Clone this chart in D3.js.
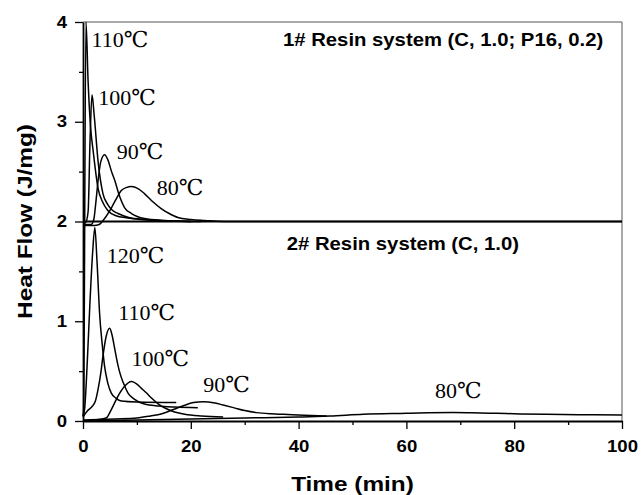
<!DOCTYPE html>
<html>
<head>
<meta charset="utf-8">
<script src="https://cdn.jsdelivr.net/npm/d3@7"></script>
<style>
  body { margin: 0; background: #fff; }
  .tick text { font-family: "Liberation Sans", Arial, sans-serif; font-weight: bold; font-size: 16px; fill: #000; }
  .tick line { stroke: #000; stroke-width: 1.3; }
  .curve { fill: none; stroke: #000; stroke-width: 1.5; }
  .temp-label { font-family: "Liberation Serif", "DejaVu Serif", serif; font-size: 22px; fill: #000; }
  .panel-title { font-family: "Liberation Sans", Arial, sans-serif; font-weight: bold; font-size: 17.5px; fill: #000; }
  .axis-title { font-family: "Liberation Sans", Arial, sans-serif; font-weight: bold; font-size: 21px; fill: #000; }
</style>
</head>
<body>
<div id="viz_container"></div>
<script>
// tick values
const timeTicks = [0, 20, 40, 60, 80, 100];
const timeMinor = [10, 30, 50, 70, 90];
const flowTicks = [0, 1, 2, 3, 4];
const flowMinor = [0.5, 1.5, 2.5, 3.5];

// 1# resin system curves, [time, heat flow], offset by 2
const resin1_110 = [[0,0.05],[0.1,0.1],[0.55,4.0],[0.95,3.4],[1.4,2.95],[1.9,2.7],[2.8,2.33],[3.6,2.2],[4.6,2.11],[6,2.06],[8.3,2.035],[11,2.02],[14.5,2.01],[20,2.0]];
const resin1_100 = [[0,1.98],[0.5,1.99],[0.95,2.1],[1.3,2.8],[1.67,3.27],[2.1,3.05],[2.8,2.6],[3.7,2.28],[4.6,2.17],[5.5,2.11],[6.5,2.08],[8.5,2.04],[11.5,2.02],[16,2.005],[22,2.0]];
const resin1_90 = [[0,1.97],[1.5,1.97],[2.0,2.02],[2.4,2.2],[2.8,2.41],[3.3,2.6],[4.0,2.67],[4.6,2.62],[5.3,2.5],[5.9,2.41],[6.8,2.25],[7.7,2.14],[9,2.08],[11.4,2.03],[15,2.01],[20,2.0]];
const resin1_80 = [[0,1.96],[2,1.96],[3,1.97],[4,2.03],[5.3,2.14],[6.2,2.23],[7.1,2.31],[8,2.34],[9,2.35],[10.2,2.33],[11.4,2.28],[12.9,2.2],[14.5,2.13],[16,2.08],[17.6,2.04],[20,2.02],[22.6,2.01],[26,2.0],[100,2.0]];

// 2# resin system curves
const resin2_120 = [[0,0.05],[0.3,0.12],[0.8,0.6],[1.3,1.2],[1.8,1.7],[2.2,1.94],[2.6,1.6],[3.1,1.06],[3.6,0.75],[4.0,0.55],[4.6,0.38],[5.25,0.28],[6.1,0.23],[7.1,0.2],[10,0.19],[17.3,0.185]];
const resin2_110 = [[0,0.04],[0.8,0.1],[1.6,0.14],[2.3,0.2],[2.8,0.32],[3.3,0.48],[3.7,0.65],[4.3,0.85],[4.95,0.93],[5.4,0.86],[5.9,0.72],[6.4,0.58],[6.8,0.49],[7.5,0.38],[8.35,0.28],[9.5,0.22],[11.4,0.17],[14,0.15],[17,0.14],[21.3,0.134]];
const resin2_100 = [[0,0.0],[2,0.01],[4.3,0.03],[5.3,0.12],[6.5,0.25],[7.6,0.34],[9.0,0.395],[10,0.37],[10.8,0.33],[11.8,0.28],[12.7,0.23],[14,0.17],[15.2,0.13],[17,0.09],[18.9,0.067],[22,0.05],[26,0.04]];
const resin2_90 = [[0,0.01],[6,0.02],[10,0.03],[12.5,0.05],[14.5,0.07],[16.5,0.11],[18.5,0.15],[20.5,0.185],[22.3,0.194],[24.5,0.18],[26,0.16],[27.9,0.134],[30,0.105],[32.2,0.084],[35,0.072],[37.2,0.067],[41,0.058],[45.2,0.05]];
const resin2_80 = [[0,0.0],[10,0.01],[20,0.02],[30,0.03],[40,0.04],[45.8,0.05],[52,0.067],[60,0.077],[64,0.082],[68.7,0.084],[72,0.082],[76.7,0.077],[81,0.071],[86,0.067],[92,0.063],[100,0.06]];

const curves = [resin1_110, resin1_100, resin1_90, resin1_80, resin2_120, resin2_110, resin2_100, resin2_90, resin2_80];

// temperature labels and where they sit, in data units
const tempLabels = ["110℃", "100℃", "90℃", "80℃", "120℃", "110℃", "100℃", "90℃", "80℃"];
const tempLabelAt = [[1.6,3.75],[2.85,3.17],[6.25,2.63],[13.7,2.27],[4.4,1.58],[6.55,1.01],[9.0,0.55],[22.3,0.29],[65.3,0.23]];

const panelTitles = ["1# Resin system (C, 1.0; P16, 0.2)", "2# Resin system (C, 1.0)"];
const panelTitleAt = [[37.1,3.76], [37.8,1.71]];

// set the dimensions and margins of the graph
const margin = {top: 22, right: 20, bottom: 74, left: 83};
const width = 642 - margin.left - margin.right;
const height = 495 - margin.top - margin.bottom;
const stretchK = 1.16;

const svg = d3.select("#viz_container")
  .append("svg")
    .attr("width", 642)
    .attr("height", 495)
  .append("g")
    .attr("transform", `translate(${margin.left},${margin.top})`);

const xScale = d3.scaleLinear().domain([0, 100]).range([0, width]);
const yScale = d3.scaleLinear().domain([0, 4]).range([height, 0]);

// widen sans text a little, the source font is broader than Arial
function stretch(sel) {
  sel.each(function() {
    const t = d3.select(this);
    const x = +t.attr("x") || 0, y = +t.attr("y") || 0;
    t.attr("x", 0).attr("y", 0)
      .attr("transform", `translate(${x},${y}) scale(${stretchK},1)`);
  });
}

// frame top and right
svg.append("line")
    .attr("x1", 0).attr("x2", width).attr("y1", 0).attr("y2", 0)
    .style("stroke", "#555").style("stroke-width", 1);
svg.append("line")
    .attr("x1", width).attr("x2", width).attr("y1", 0).attr("y2", height)
    .style("stroke", "#555").style("stroke-width", 1);

// curves
const line = d3.line()
  .x(d => xScale(d[0]))
  .y(d => yScale(d[1]))
  .curve(d3.curveMonotoneX);

svg.selectAll(".curve")
  .data(curves)
  .join("path")
    .attr("class", "curve")
    .attr("d", line);

// panel separator at 2
svg.append("line")
    .attr("x1", 0).attr("x2", width)
    .attr("y1", yScale(2)).attr("y2", yScale(2))
    .style("stroke", "#000").style("stroke-width", 1.8);

// X axis
const xAxis = svg.append("g")
  .attr("transform", `translate(0, ${height})`)
  .call(d3.axisBottom(xScale).tickValues(timeTicks).tickSize(8).tickPadding(12).tickSizeOuter(0));
xAxis.select(".domain").style("stroke-width", 1.8);
stretch(xAxis.selectAll(".tick text"));

svg.append("g")
  .attr("transform", `translate(0, ${height})`)
  .call(d3.axisBottom(xScale).tickValues(timeMinor).tickSize(4).tickFormat(""))
  .call(g => g.select(".domain").remove());

// Y axis
const yAxis = svg.append("g")
  .call(d3.axisLeft(yScale).tickValues(flowTicks).tickFormat(d3.format("d"))
    .tickSize(8).tickPadding(8).tickSizeOuter(0));
yAxis.select(".domain").style("stroke-width", 1.8);
stretch(yAxis.selectAll(".tick text"));

svg.append("g")
  .call(d3.axisLeft(yScale).tickValues(flowMinor).tickSize(4).tickFormat(""))
  .call(g => g.select(".domain").remove());

// temperature labels
svg.selectAll(".temp-label")
  .data(tempLabels)
  .join("text")
    .attr("class", "temp-label")
    .attr("x", (d, i) => xScale(tempLabelAt[i][0]))
    .attr("y", (d, i) => yScale(tempLabelAt[i][1]))
  .text(d => d);

// panel titles
svg.selectAll(".panel-title")
  .data(panelTitles)
  .join("text")
    .attr("class", "panel-title")
    .attr("x", (d, i) => xScale(panelTitleAt[i][0]))
    .attr("y", (d, i) => yScale(panelTitleAt[i][1]))
  .text(d => d)
  .call(stretch);

// set X axis label
svg.append("text")
    .attr("class", "axis-title")
    .attr("text-anchor", "middle")
    .attr("transform", `translate(${width/2}, ${height + 70}) scale(${stretchK},1)`)
  .text("Time (min)");

// set Y axis label
svg.append("text")
    .attr("class", "axis-title")
    .attr("text-anchor", "middle")
    .attr("transform", `translate(${-51}, ${height/2}) rotate(-90) scale(${stretchK},1)`)
  .text("Heat Flow (J/mg)");
</script>
</body>
</html>
